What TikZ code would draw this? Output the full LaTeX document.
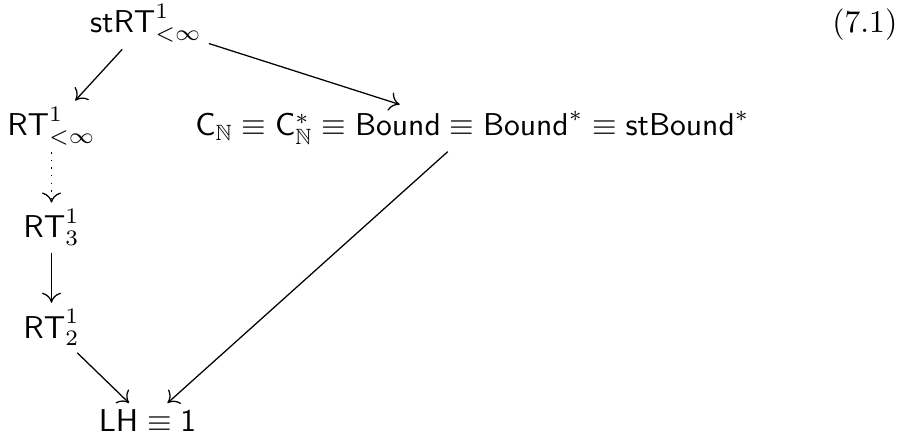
\documentclass[tikz,border=0pt]{standalone}
\usepackage{amssymb}
\usetikzlibrary{arrows.meta}

\begin{document}
\begin{tikzpicture}[x=1pt, y=1pt,
  stmt/.style={inner sep=2pt, anchor=base},
  impl/.style={-{Computer Modern Rightarrow[length=3.2pt, width=6pt]}, line width=0.4pt}]
  \useasboundingbox (0,0) rectangle (286.1,-140.2);

  \node[stmt] (strt) at (46.2,-10.4) {$\mathsf{stRT}^1_{<\infty}$};
  \node[stmt] (rtinf) at (16.3,-43.0) {$\mathsf{RT}^1_{<\infty}$};
  \node[stmt] (crow) at (149.5,-43.0)
    {$\mathsf{C}_{\mathbb{N}}\equiv\mathsf{C}^*_{\mathbb{N}}\equiv\mathsf{Bound}\equiv\mathsf{Bound}^*\equiv\mathsf{stBound}^*$};
  \node[stmt] (rtthree) at (16.3,-75.3) {$\mathsf{RT}^1_3$};
  \node[stmt] (rttwo) at (16.3,-107.0) {$\mathsf{RT}^1_2$};
  \node[stmt] (lh) at (46.7,-136.7) {$\mathsf{LH}\equiv\mathsf{1}$};

  \node[stmt] (eqno) at (273.7,-10.4) {(7.1)};

  \draw[impl] (strt) -- (rtinf);
  \draw[impl] (strt) -- ([xshift=-23pt]crow.north);
  \draw[impl, dotted] (rtinf) -- (rtthree);
  \draw[impl] (rtthree) -- (rttwo);
  \draw[impl] (rttwo) -- (lh);
  \draw[impl] ([xshift=-7.8pt]crow.south) -- (lh);
\end{tikzpicture}
\end{document}
